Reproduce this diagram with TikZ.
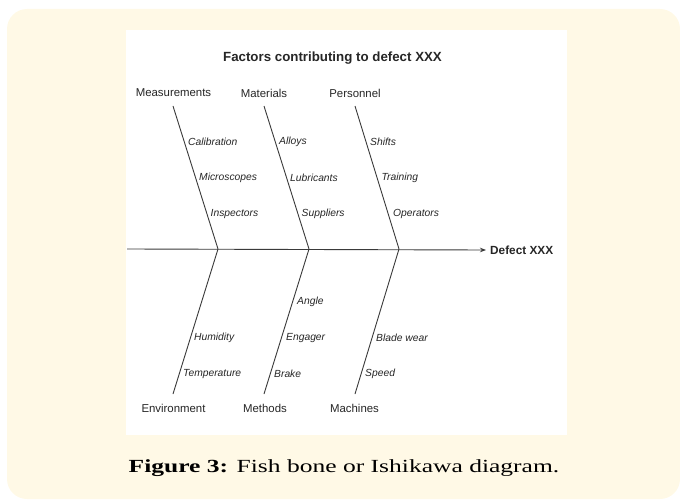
\documentclass[tikz,border=0pt]{standalone}
\usepackage{fontspec}
\newfontfamily\lab{Liberation Sans}
\newfontfamily\capfont[FakeStretch=1.38]{Liberation Serif}
\usetikzlibrary{arrows.meta}
\definecolor{cream}{HTML}{FFF9E6}
\definecolor{ink}{HTML}{262626}
\definecolor{bone}{HTML}{3A3A3A}
\tikzset{
  cat/.style={font=\lab\fontsize{11.4}{13}\selectfont, text=ink, inner sep=0pt, anchor=center},
  sub/.style={font=\lab\itshape\fontsize{10.3}{12}\selectfont, text=ink, inner sep=0pt, anchor=west},
  bonestyle/.style={draw=bone, line width=0.9pt},
}
\begin{document}
\begin{tikzpicture}[x=1pt,y=-1pt]
\useasboundingbox (0,0) rectangle (680,500);
\fill[cream, rounded corners=20pt] (7,9) rectangle (680,499);
\fill[white] (126,30) rectangle (567,435);

\node[font=\lab\bfseries\fontsize{13.3}{15}\selectfont, text=ink, inner sep=0pt] (title) at (332.5,58) {Factors contributing to defect XXX};

% category labels
\node[cat] (meas) at (173.5,93) {Measurements};
\node[cat] (mat) at (264,93) {Materials};
\node[cat] (pers) at (355,93) {Personnel};
\node[cat] (env) at (173.5,408) {Environment};
\node[cat] (meth) at (265,408) {Methods};
\node[cat] (mach) at (354.5,408) {Machines};
\node[font=\lab\bfseries\fontsize{11.8}{14}\selectfont, text=ink, inner sep=0pt, anchor=west] (defect) at (490,250) {Defect XXX};

% bone coordinates
\coordinate (t1) at (173,106);
\coordinate (t2) at (264,106);
\coordinate (t3) at (355,106);
\coordinate (j1) at (218,249);
\coordinate (j2) at (309,249);
\coordinate (j3) at (399,249);
\coordinate (b1) at (173,394);
\coordinate (b2) at (264,394);
\coordinate (b3) at (355,394);
\coordinate (tail) at (127,249);

% spine
\draw[bonestyle, -{Stealth[length=6pt,width=4.5pt]}] (tail) -- ([xshift=-4pt]defect.west);
% bones
\draw[bonestyle] (t1) -- (j1) -- (b1);
\draw[bonestyle] (t2) -- (j2) -- (b2);
\draw[bonestyle] (t3) -- (j3) -- (b3);

% sub-causes, top
\node[sub] (cal) at (188,142) {Calibration};
\node[sub] (mic) at (199,178) {Microscopes};
\node[sub] (insp) at (210.5,214) {Inspectors};
\node[sub] (all) at (279,142) {Alloys};
\node[sub] (lub) at (290,178) {Lubricants};
\node[sub] (sup) at (301.5,214) {Suppliers};
\node[sub] (shi) at (370,142) {Shifts};
\node[sub] (tra) at (381.5,178) {Training};
\node[sub] (ope) at (393,214) {Operators};
% sub-causes, bottom
\node[sub] (hum) at (194,338) {Humidity};
\node[sub] (tem) at (183,374) {Temperature};
\node[sub] (ang) at (297,302) {Angle};
\node[sub] (eng) at (286,338) {Engager};
\node[sub] (bra) at (274,374) {Brake};
\node[sub] (bla) at (376,338) {Blade wear};
\node[sub] (spe) at (365,374) {Speed};

% caption
\node[font=\capfont\fontsize{18.5}{22}\selectfont, text=black, inner sep=0pt] (cap) at (344,468) {\textbf{Figure 3:} Fish bone or Ishikawa diagram.};
\end{tikzpicture}
\end{document}
